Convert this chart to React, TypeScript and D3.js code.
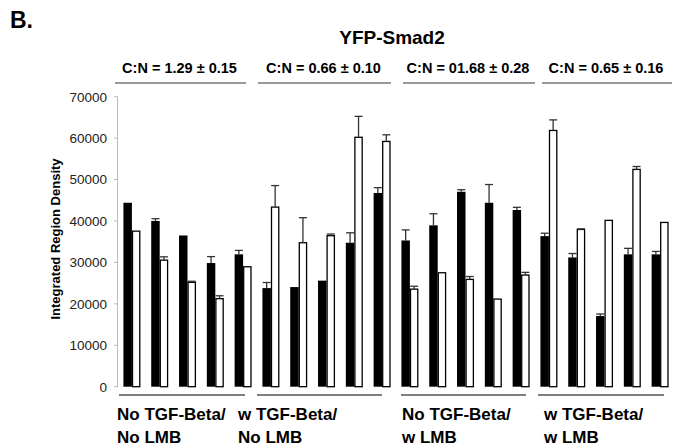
import React from "react";
import * as d3 from "d3";

const groups = ["No TGF-Beta/|No LMB", "w TGF-Beta/|No LMB", "No TGF-Beta/|w LMB", "w TGF-Beta/|w LMB"];
const ratios = ["C:N = 1.29 ± 0.15", "C:N = 0.66 ± 0.10", "C:N = 01.68 ± 0.28", "C:N = 0.65 ± 0.16"];
const blackValues = [44400, 40000, 36500, 29850, 31950, 23800, 24050, 25600, 34750, 46750, 35300, 38950, 47050, 44400, 42650, 36350, 31200, 17050, 31950, 31950];
const blackErrors = [0, 550, 0, 1550, 950, 1350, 0, 0, 2400, 1300, 2550, 2800, 500, 4400, 650, 700, 950, 500, 1450, 700];
const whiteValues = [37550, 30550, 25200, 21250, 28950, 43350, 34750, 36450, 60200, 59200, 23550, 27500, 25900, 21150, 26950, 61850, 37950, 40150, 52450, 39650];
const whiteErrors = [0, 800, 250, 700, 0, 5200, 6050, 400, 5050, 1600, 700, 0, 700, 0, 650, 2550, 150, 0, 700, 0];
const yTicks = [0, 10000, 20000, 30000, 40000, 50000, 60000, 70000];

const W = 680, H = 448;
const left = 118, right = 674, top = 96.7, bottom = 386.7;
// layout of decorative header / footer rules
const headerRules = [[115, 246], [258, 391], [403, 535], [542, 672]];
const footerRules = [[119, 245], [257, 382], [401, 526], [538, 664]];
const labelX = [117, 238, 402, 544];

export default function App() {
  const y = d3.scaleLinear().domain([0, 70000]).range([bottom, top]);
  const idx = d3.range(blackValues.length);
  const x = d3.scaleBand<number>().domain(idx).range([left, right]).paddingInner(0.39).paddingOuter(0.195);
  const bw = x.bandwidth() / 2;
  const cap = 4;
  const font = "Arial, 'Liberation Sans', sans-serif";

  return (
    <svg width={W} height={H} style={{ position: "absolute", left: 0, top: 0, background: "#fff" }} fontFamily={font}>
      <text x={10} y={28} fontSize={23} fontWeight="bold">B.</text>
      <text x={392} y={44} fontSize={19} fontWeight="bold" textAnchor="middle">YFP-Smad2</text>
      {ratios.map((r, g) => {
        const [x0, x1] = headerRules[g];
        return (
          <g key={r}>
            <text x={(x0 + x1) / 2 - 1} y={73} fontSize={14.5} fontWeight="bold" textAnchor="middle">{r}</text>
            <line x1={x0} x2={x1} y1={83} y2={83} stroke="#777" strokeWidth={1.5} />
          </g>
        );
      })}
      {/* y axis */}
      <line x1={left - 0.5} x2={left - 0.5} y1={top} y2={bottom} stroke="#bbb" strokeWidth={1} />
      {yTicks.map((t) => (
        <g key={t}>
          <line x1={left - 4} x2={left} y1={y(t)} y2={y(t)} stroke="#bbb" strokeWidth={1} />
          <text x={left - 11} y={y(t)} dy="0.36em" fontSize={13.5} textAnchor="end" fill="#222">{t}</text>
        </g>
      ))}
      <text transform={`translate(59.5, 239) rotate(-90)`} fontSize={13} fontWeight="bold" textAnchor="middle">Integrated Region Density</text>
      {/* bars */}
      {idx.map((i) => {
        const bx = x(i)!;
        const wx = bx + bw;
        return (
          <g key={i}>
            <rect x={bx} y={y(blackValues[i])} width={bw} height={y(0) - y(blackValues[i])} fill="#000" />
            {blackErrors[i] > 0 && (
              <g stroke="#333" strokeWidth={1.3}>
                <line x1={bx + bw / 2} x2={bx + bw / 2} y1={y(blackValues[i])} y2={y(blackValues[i] + blackErrors[i])} />
                <line x1={bx + bw / 2 - cap} x2={bx + bw / 2 + cap} y1={y(blackValues[i] + blackErrors[i])} y2={y(blackValues[i] + blackErrors[i])} />
              </g>
            )}
            <rect x={wx + 0.6} y={y(whiteValues[i])} width={bw - 1.2} height={y(0) - y(whiteValues[i])} fill="#fff" stroke="#000" strokeWidth={1.3} />
            {whiteErrors[i] > 0 && (
              <g stroke="#333" strokeWidth={1.3}>
                <line x1={wx + bw / 2} x2={wx + bw / 2} y1={y(whiteValues[i])} y2={y(whiteValues[i] + whiteErrors[i])} />
                <line x1={wx + bw / 2 - cap} x2={wx + bw / 2 + cap} y1={y(whiteValues[i] + whiteErrors[i])} y2={y(whiteValues[i] + whiteErrors[i])} />
              </g>
            )}
          </g>
        );
      })}
      {/* group lines and labels */}
      {groups.map((gl, g) => {
        const [x0, x1] = footerRules[g];
        const [l1, l2] = gl.split("|");
        const lx = labelX[g];
        return (
          <g key={g}>
            <line x1={x0} x2={x1} y1={395} y2={395} stroke="#555" strokeWidth={1.3} />
            <text x={lx} y={420} fontSize={17} fontWeight="bold">{l1}</text>
            <text x={lx} y={443} fontSize={17} fontWeight="bold">{l2}</text>
          </g>
        );
      })}
    </svg>
  );
}
